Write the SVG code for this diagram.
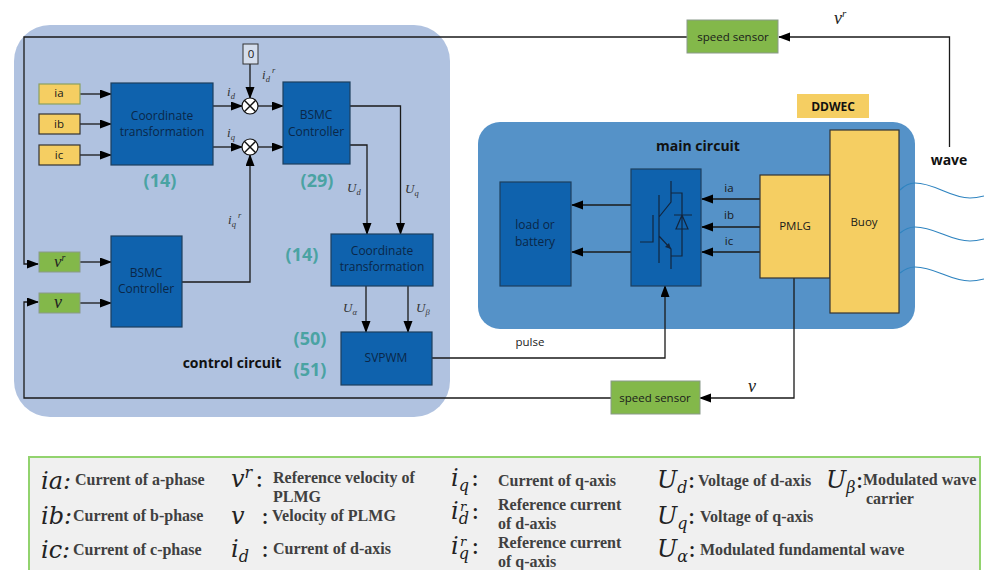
<svg xmlns="http://www.w3.org/2000/svg" width="984" height="570" viewBox="0 0 984 570">
<style>
text{font-family:"Open Sans","Noto Sans",sans-serif}
.b{fill:#0f62ad;stroke:#1d3f5e;stroke-width:1.2}
.y{fill:#f5ce62;stroke:#333;stroke-width:1.2}
.g{fill:#83b84a;stroke:#8a9a8a;stroke-width:1}
.t{font-size:12px;fill:#0a2748;text-anchor:middle}
.d{font-size:11.500px;fill:#1a1a1a;text-anchor:middle}
.n{font-size:18px;font-weight:700;fill:#4aa3a3;text-anchor:middle}
.h{font-size:14px;font-weight:700;fill:#111;text-anchor:middle}
.c{fill:none;stroke:#1a1a1a;stroke-width:1.3}
.w{fill:none;stroke:#2f84c0;stroke-width:1.2}
.m{font-family:"Liberation Serif",serif;font-style:italic;font-size:13px;fill:#333}
.m2{font-family:"Liberation Serif",serif;font-style:italic;font-size:18px;fill:#222}
.s{font-size:8.500px}
.L{font-family:"DejaVu Serif","Liberation Serif",serif;font-style:italic;font-size:24px;fill:#222}
.Ls{font-size:16px}
.Lr{font-size:13px}
.k{font-family:"Liberation Serif",serif;font-weight:700;font-size:16px;fill:#404040}
</style>
<defs>
<marker id="a" markerWidth="12" markerHeight="10" refX="11" refY="4.5" orient="auto" markerUnits="userSpaceOnUse"><path d="M0 0L12 4.5L0 9z" fill="#000"/></marker>
</defs>
<rect width="984" height="570" fill="#fff"/>
<g id="control-panel"><rect x="14" y="25" width="436" height="392" rx="36" fill="#b0c2e0"/></g>
<g id="main-panel"><rect x="478" y="122" width="437" height="207" rx="22" fill="#5592c8"/></g>
<g id="waves">
<path class="w" d="M900 190C905 185 910 183 915 183C935 183 950 198 970 198C975 198 980 197 984 196"/>
<path class="w" d="M900 233C905 229 910 227 915 227C935 227 950 241 970 241C975 241 980 240 984 239"/>
<path class="w" d="M900 273C905 269 910 267 915 267C935 267 950 281 970 281C975 281 980 280 984 279"/>
</g>
<g id="connectors">
<path class="c" marker-end="url(#a)" d="M687 37H24V264H38"/>
<path class="c" marker-end="url(#a)" d="M611 398H24V302H38"/>
<path class="c" marker-end="url(#a)" d="M80 94H111"/>
<path class="c" marker-end="url(#a)" d="M80 124H111"/>
<path class="c" marker-end="url(#a)" d="M80 155H111"/>
<path class="c" marker-end="url(#a)" d="M213 106H242"/>
<path class="c" marker-end="url(#a)" d="M213 147H242"/>
<path class="c" marker-end="url(#a)" d="M250 64V98"/>
<path class="c" marker-end="url(#a)" d="M258 106H283"/>
<path class="c" marker-end="url(#a)" d="M258 147H283"/>
<path class="c" marker-end="url(#a)" d="M182 282H250V155"/>
<path class="c" marker-end="url(#a)" d="M350 106H400.500V234"/>
<path class="c" marker-end="url(#a)" d="M350 145H367V234"/>
<path class="c" marker-end="url(#a)" d="M366 286V332"/>
<path class="c" marker-end="url(#a)" d="M408 286V332"/>
<path class="c" marker-end="url(#a)" d="M80 262H111"/>
<path class="c" marker-end="url(#a)" d="M80 303H111"/>
<path class="c" marker-end="url(#a)" d="M432 358H665V286"/>
<path class="c" marker-end="url(#a)" d="M631 205H572"/>
<path class="c" marker-end="url(#a)" d="M631 252H572"/>
<path class="c" marker-end="url(#a)" d="M760 199H702"/>
<path class="c" marker-end="url(#a)" d="M760 227H702"/>
<path class="c" marker-end="url(#a)" d="M760 252H702"/>
<path class="c" marker-end="url(#a)" d="M794 278V398H700"/>
<path class="c" marker-end="url(#a)" d="M949.500 147V37H779"/>
</g>
<g id="ia"><rect class="y" x="39" y="84" width="41" height="20" style="stroke:#8aa060"/><text class="d" x="59" y="97">ia</text></g>
<g id="ib"><rect class="y" x="39" y="114" width="41" height="20"/><text class="d" x="59" y="128">ib</text></g>
<g id="ic"><rect class="y" x="39" y="145" width="41" height="20"/><text class="d" x="59" y="159">ic</text></g>
<g id="coord1"><rect class="b" x="111" y="83" width="102" height="82"/><text class="t" x="162" y="120">Coordinate</text><text class="t" x="162" y="136">transformation</text></g>
<g id="zero"><rect x="243" y="44" width="15" height="20" fill="#d5deed" stroke="#333"/><text class="d" x="251" y="58">0</text></g>
<g id="sum1"><circle cx="250" cy="106" r="8" fill="#fff" stroke="#111" stroke-width="1.2"/><path d="M244.300 100.300L255.700 111.700M255.700 100.300L244.300 111.700" stroke="#111" stroke-width="1.4"/></g>
<g id="sum2"><circle cx="250" cy="147" r="8" fill="#fff" stroke="#111" stroke-width="1.2"/><path d="M244.300 141.300L255.700 152.700M255.700 141.300L244.300 152.700" stroke="#111" stroke-width="1.4"/></g>
<g id="bsmc1"><rect class="b" x="283" y="82" width="67" height="82"/><text class="t" x="316" y="119">BSMC</text><text class="t" x="316" y="136">Controller</text></g>
<g id="bsmc2"><rect class="b" x="111" y="236" width="71" height="91"/><text class="t" x="146" y="277">BSMC</text><text class="t" x="146" y="293">Controller</text></g>
<g id="coord2"><rect class="b" x="331" y="234" width="102" height="52"/><text class="t" x="382" y="255">Coordinate</text><text class="t" x="382" y="271">transformation</text></g>
<g id="svpwm"><rect class="b" x="341" y="332" width="91" height="53"/><text class="t" x="386" y="362">SVPWM</text></g>
<g id="vr"><rect class="g" x="39" y="252" width="41" height="20"/><text class="m2" x="54" y="267" style="font-size:17px">v<tspan font-size="10" dy="-6">r</tspan></text></g>
<g id="v"><rect class="g" x="39" y="293" width="41" height="20"/><text class="m2" x="54" y="308" style="font-size:18px">v</text></g>
<g id="sensor-top"><rect class="g" x="687" y="20" width="91" height="33"/><text class="d" x="733" y="41">speed sensor</text></g>
<g id="sensor-bottom"><rect class="g" x="611" y="381" width="89" height="33"/><text class="d" x="655" y="402">speed sensor</text></g>
<g id="load"><rect class="b" x="500" y="182" width="71" height="104"/><text class="t" x="535" y="229">load or</text><text class="t" x="535" y="246">battery</text></g>
<g id="inverter"><rect class="b" x="631" y="169" width="70" height="117"/>
<path fill="none" stroke="#12263f" stroke-width="1.200" d="M640 242H653V215M659 195V263M671 181V202L659 217M659 236L671 249V269M671 193H682V256H671M674 215H692M682 215L676 229H688L682 215"/>
<path d="M671 249L665 247L669 243z" fill="#12263f"/></g>
<g id="pmlg"><rect class="y" x="760" y="175" width="70" height="103"/><text class="d" x="795" y="230">PMLG</text></g>
<g id="buoy"><rect class="y" x="830" y="130" width="69" height="183"/><text class="d" x="864" y="226">Buoy</text></g>
<g id="ddwec"><rect x="797" y="94" width="72" height="24" fill="#f5ce62"/><text x="833" y="111" text-anchor="middle" style="font-size:12px;font-weight:700;fill:#111">DDWEC</text></g>
<g id="labels">
<text class="n" x="160" y="187">(14)</text><text class="n" x="317" y="187">(29)</text><text class="n" x="302" y="261">(14)</text><text class="n" x="310" y="345">(50)</text><text class="n" x="310" y="376">(51)</text>
<text class="h" x="232" y="368">control circuit</text><text class="h" x="698" y="151">main circuit</text><text class="h" x="949" y="165">wave</text>
<text class="d" x="530" y="346">pulse</text><text class="d" x="729" y="192">ia</text><text class="d" x="729" y="219">ib</text><text class="d" x="729" y="245">ic</text>
<text class="m" x="227" y="96">i<tspan class="s" dy="3">d</tspan></text><text class="m" x="227" y="137">i<tspan class="s" dy="3">q</tspan></text>
<text class="m" x="262" y="79">i<tspan class="s" dy="3">d</tspan><tspan class="s" dy="-9"> r</tspan></text><text class="m" x="228" y="224">i<tspan class="s" dy="3">q</tspan><tspan class="s" dy="-9"> r</tspan></text>
<text class="m" x="347" y="192">U<tspan class="s" dy="3">d</tspan></text><text class="m" x="405" y="193">U<tspan class="s" dy="3">q</tspan></text>
<text class="m" x="343" y="312">U<tspan class="s" dy="3">α</tspan></text><text class="m" x="416" y="312">U<tspan class="s" dy="3">β</tspan></text>
<text class="m2" x="834" y="24">v<tspan font-size="11" dy="-7">r</tspan></text><text class="m2" x="748" y="392">v</text>
</g>
<g id="legend">
<rect x="29" y="457" width="951" height="130" fill="#f0f0f0" stroke="#92d36e" stroke-width="2"/>
<text class="L" x="41" y="489">ia:</text><text class="L" x="41" y="524">ib:</text><text class="L" x="41" y="558">ic:</text>
<text class="k" x="75" y="485">Current of a-phase</text><text class="k" x="73" y="521">Current of b-phase</text><text class="k" x="73" y="555">Current of c-phase</text>
<text class="L" x="231" y="487">v<tspan class="Ls" dy="-9">r</tspan><tspan dy="9" dx="3" font-style="normal">:</tspan></text><text class="L" x="231" y="524">v</text><text class="L" x="261" y="524" style="font-style:normal">:</text><text class="L" x="231" y="557">i<tspan class="Ls" dy="5">d</tspan></text><text class="L" x="261" y="557" style="font-style:normal">:</text>
<text class="k" x="273" y="483">Reference velocity of</text><text class="k" x="273" y="502">PLMG</text><text class="k" x="272" y="521">Velocity of PLMG</text><text class="k" x="273" y="554">Current of d-axis</text>
<text class="L" x="451" y="486">i<tspan class="Ls" dy="5">q</tspan><tspan dy="-5" dx="2" font-style="normal">:</tspan></text>
<text class="L" x="451" y="519">i<tspan class="Ls" dy="5">d</tspan><tspan class="Lr" dx="-9" dy="-13">r</tspan><tspan dx="5" dy="8" font-style="normal">:</tspan></text>
<text class="L" x="451" y="554">i<tspan class="Ls" dy="5">q</tspan><tspan class="Lr" dx="-9" dy="-13">r</tspan><tspan dx="5" dy="8" font-style="normal">:</tspan></text>
<text class="k" x="498" y="486">Current of q-axis</text><text class="k" x="498" y="510">Reference current</text><text class="k" x="498" y="529">of d-axis</text><text class="k" x="498" y="548">Reference current</text><text class="k" x="498" y="567">of q-axis</text>
<text class="L" x="657" y="488">U<tspan class="Ls" dy="5">d</tspan><tspan dy="-5" font-style="normal">:</tspan></text><text class="L" x="657" y="524">U<tspan class="Ls" dy="5">q</tspan><tspan dy="-5" font-style="normal">:</tspan></text><text class="L" x="657" y="557">U<tspan class="Ls" dy="5">α</tspan><tspan dy="-5" font-style="normal">:</tspan></text>
<text class="k" x="698" y="486">Voltage of d-axis</text><text class="k" x="700" y="522">Voltage of q-axis</text><text class="k" x="700" y="555">Modulated fundamental wave</text>
<text class="L" x="826" y="488">U<tspan class="Ls" dy="5">β</tspan><tspan dy="-5" font-style="normal">:</tspan></text><text class="k" x="863" y="485">Modulated wave</text><text class="k" x="866" y="504">carrier</text>
</g>
</svg>
